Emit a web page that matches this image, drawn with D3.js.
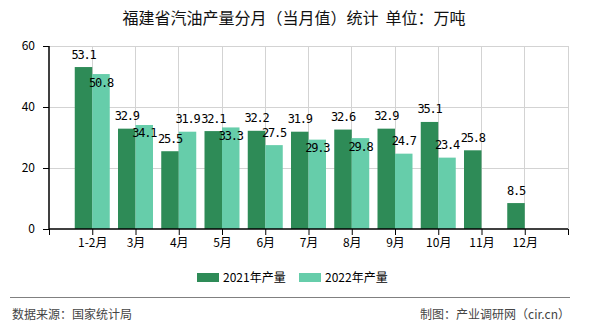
<!DOCTYPE html>
<html><head><meta charset="utf-8">
<script src="https://cdn.jsdelivr.net/npm/d3@7"></script>
<style>
html,body{margin:0;padding:0;background:#fff;}
svg{display:block;}
</style>
</head><body>
<script>
const title = "福建省汽油产量分月（当月值）统计\u00a0\u00a0单位：万吨";
const categories = ["1-2月","3月","4月","5月","6月","7月","8月","9月","10月","11月","12月"];
const series2021 = [53.1,32.9,25.5,32.1,32.2,31.9,32.6,32.9,35.1,25.8,8.5];
const series2022 = [50.8,34.1,31.9,33.3,27.5,29.3,29.8,24.7,23.4,null,null];
const seriesNames = ["2021年产量","2022年产量"];
const yTicks = [0,20,40,60];
const sourceText = "数据来源：国家统计局";
const creditText = "制图：产业调研网（cir.cn）";

const W = 590, H = 330;
const colors = ["#2e8b57","#66cdaa"];
const cjk = "'Noto Sans CJK SC','Noto Sans',sans-serif";
const mono = "'DejaVu Sans Mono','Liberation Mono',monospace";

const svg = d3.select("body").append("svg").attr("width",W).attr("height",H);

const x = d3.scaleLinear().domain([0, categories.length + 1]).range([49, 568]);
const y = d3.scaleLinear().domain([0, 60]).range([229, 46]);
const barW = 17.5;

// title
svg.append("text").attr("x",294).attr("y",24).attr("text-anchor","middle")
  .attr("font-family",cjk).attr("font-size",16).attr("fill","#111").text(title);

// grid
const g = svg.append("g");
g.selectAll("line.h").data(yTicks.filter(d=>d>0)).join("line")
  .attr("x1",x(0)).attr("x2",x(categories.length+1))
  .attr("y1",d=>y(d)).attr("y2",d=>y(d))
  .attr("stroke","#d3d3d3").attr("stroke-width",1).attr("shape-rendering","crispEdges");
g.selectAll("line.v").data(d3.range(1,categories.length+2)).join("line")
  .attr("x1",d=>x(d)).attr("x2",d=>x(d))
  .attr("y1",y(0)).attr("y2",y(60))
  .attr("stroke","#d3d3d3").attr("stroke-width",1).attr("shape-rendering","crispEdges");

// bars
const bars = svg.append("g");
[series2021, series2022].forEach((s,si)=>{
  bars.selectAll("rect.s"+si).data(s.map((v,i)=>({v,i})).filter(d=>d.v!=null)).join("rect")
    .attr("x",d=>x(d.i+1) + (si===0 ? -barW : 0))
    .attr("y",d=>y(d.v))
    .attr("width",barW)
    .attr("height",d=>y(0)-y(d.v))
    .attr("fill",colors[si]);
});

// axes
const yAxis = svg.append("g").attr("transform",`translate(${x(0)},0)`)
  .call(d3.axisLeft(y).tickValues(yTicks).tickSize(6).tickPadding(8).tickFormat(d3.format("d")));
const xAxis = svg.append("g").attr("transform",`translate(0,${y(0)})`)
  .call(d3.axisBottom(x).tickValues(d3.range(0,categories.length+2)).tickSize(6).tickPadding(3)
    .tickFormat(d=> (d>=1 && d<=categories.length) ? categories[d-1] : ""));
[yAxis,xAxis].forEach(a=>{
  a.selectAll("path.domain").attr("stroke","#000").attr("stroke-width",1.5);
  a.selectAll(".tick line").attr("stroke","#000");
  a.selectAll("text").attr("font-family",cjk).attr("font-size",12).attr("fill","#000");
});
yAxis.select("path.domain").attr("d",`M0,${y(60)}V${y(0)}`);
xAxis.select("path.domain").attr("d",`M${x(0)},0H${x(categories.length+1)}`);

// data labels
const labels = svg.append("g").attr("font-family",mono).attr("font-size",12)
  .attr("letter-spacing","-1.2").attr("fill","#000").attr("text-anchor","middle");
const above = v => y(v) - 13; // label center y
series2021.forEach((v,i)=>{
  if(v==null) return;
  labels.append("text").attr("x",x(i+1)-barW/2).attr("y",above(v)+4.5).text(v.toFixed(1));
});
series2022.forEach((v,i)=>{
  if(v==null) return;
  let cy = above(v);
  const o = series2021[i];
  if(o!=null && Math.abs(above(o)-cy) < 13) cy = y(v) + 8;
  labels.append("text").attr("x",x(i+1)+barW/2).attr("y",cy+4.5).text(v.toFixed(1));
});

// legend
const leg = svg.append("g");
const legX = [197, 299];
seriesNames.forEach((n,i)=>{
  leg.append("rect").attr("x",legX[i]).attr("y",273).attr("width",22).attr("height",9).attr("fill",colors[i]);
  leg.append("text").attr("x",legX[i]+26).attr("y",282).attr("font-family",cjk).attr("font-size",12)
    .attr("fill","#000").text(n);
});

// footer
svg.append("line").attr("x1",10).attr("x2",570).attr("y1",297.5).attr("y2",297.5)
  .attr("stroke","#808080").attr("stroke-width",1);
svg.append("text").attr("x",12).attr("y",319).attr("font-family",cjk).attr("font-size",12)
  .attr("fill","#444").text(sourceText);
svg.append("text").attr("x",570).attr("y",319).attr("text-anchor","end").attr("font-family",cjk).attr("font-size",12)
  .attr("fill","#444").text(creditText);
</script>
</body></html>
